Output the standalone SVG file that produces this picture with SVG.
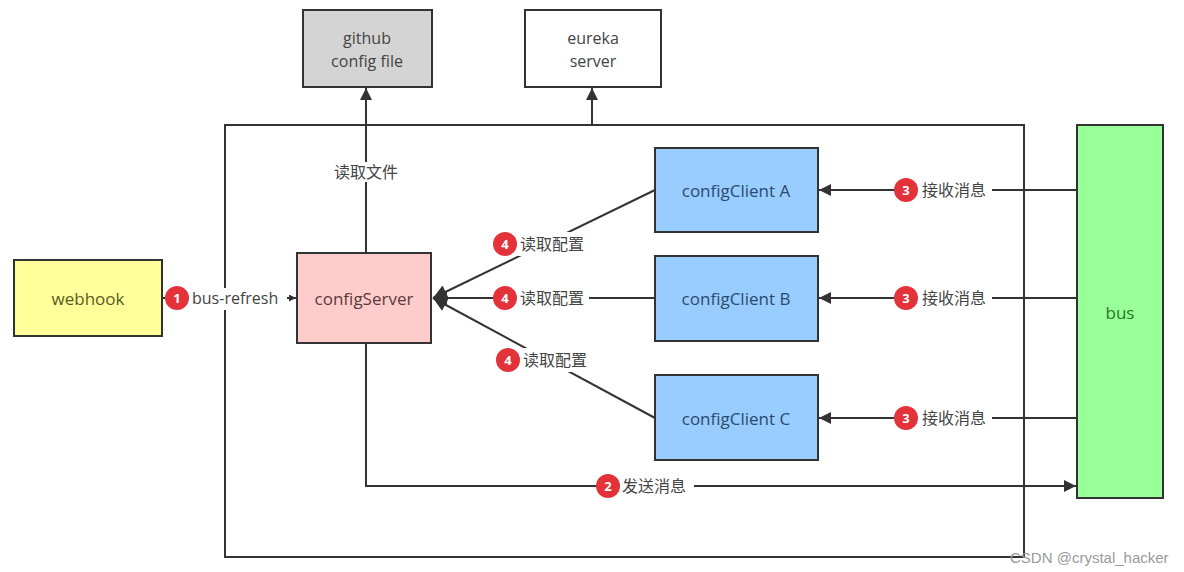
<svg xmlns="http://www.w3.org/2000/svg" width="1184" height="572" viewBox="0 0 1184 572">
<style>
.box{stroke:#333;stroke-width:2}
.t{font-family:"Open Sans","Noto Sans CJK SC",sans-serif;font-size:17px;text-anchor:middle;dominant-baseline:central}
.t2{font-family:"Open Sans","Noto Sans CJK SC",sans-serif;font-size:16px;text-anchor:middle;dominant-baseline:central}
.lbl{font-family:"Open Sans","Noto Sans CJK SC",sans-serif;font-size:16px;fill:#444;dominant-baseline:central}
.ln{stroke:#333;stroke-width:2;fill:none}
.num{fill:#e3323a}
.numt{font-family:"Open Sans",sans-serif;font-size:13px;font-weight:bold;fill:#fff;text-anchor:middle;dominant-baseline:central}
</style>
<defs>
<marker id="ah" viewBox="0 0 10 10" refX="10" refY="5" markerWidth="8" markerHeight="6" markerUnits="strokeWidth" orient="auto">
<path d="M0,0 L10,5 L0,10 z" fill="#333"/>
</marker>
<marker id="ahs" viewBox="0 0 10 10" refX="10" refY="5" markerWidth="4" markerHeight="3.5" markerUnits="strokeWidth" orient="auto">
<path d="M0,0 L10,5 L0,10 z" fill="#333"/>
</marker>
<marker id="ahd" viewBox="0 0 10 10" refX="10" refY="5" markerWidth="10" markerHeight="7" markerUnits="strokeWidth" orient="auto">
<path d="M0,0 L10,5 L0,10 z" fill="#333"/>
</marker>
</defs>
<rect width="1184" height="572" fill="#fff"/>

<g id="container"><rect x="225" y="125" width="799" height="432" fill="none" class="box"/></g>

<g id="connectors">
<line class="ln" x1="366" y1="253" x2="366" y2="88" marker-end="url(#ah)"/>
<line class="ln" x1="592" y1="125" x2="592" y2="88" marker-end="url(#ah)"/>
<line class="ln" x1="163" y1="298" x2="296" y2="298" marker-end="url(#ahs)"/>
<line class="ln" x1="655" y1="190" x2="433" y2="298" marker-end="url(#ahd)"/>
<line class="ln" x1="655" y1="298" x2="433" y2="298" marker-end="url(#ahd)"/>
<line class="ln" x1="655" y1="418" x2="433" y2="298" marker-end="url(#ahd)"/>
<line class="ln" x1="1077" y1="190" x2="819" y2="190" marker-end="url(#ah)"/>
<line class="ln" x1="1077" y1="298" x2="819" y2="298" marker-end="url(#ah)"/>
<line class="ln" x1="1077" y1="418" x2="819" y2="418" marker-end="url(#ah)"/>
<path class="ln" d="M366,343 V486 H1076" marker-end="url(#ah)"/>
</g>

<g id="labels">
<rect x="331" y="162" width="70" height="20" fill="#fff"/>
<text class="lbl" x="366" y="172" text-anchor="middle">读取文件</text>

<rect x="165" y="288" width="122" height="22" fill="#fff"/>
<circle class="num" cx="177" cy="298" r="12"/><text class="numt" x="177" y="298">1</text>
<text class="lbl" x="192" y="298">bus-refresh</text>

<rect x="493" y="232" width="96" height="24" fill="#fff"/>
<circle class="num" cx="505" cy="244" r="12"/><text class="numt" x="505" y="244">4</text>
<text class="lbl" x="520" y="244">读取配置</text>

<rect x="493" y="286" width="96" height="24" fill="#fff"/>
<circle class="num" cx="505" cy="298" r="12"/><text class="numt" x="505" y="298">4</text>
<text class="lbl" x="520" y="298">读取配置</text>

<rect x="496" y="348" width="96" height="24" fill="#fff"/>
<circle class="num" cx="508" cy="360" r="12"/><text class="numt" x="508" y="360">4</text>
<text class="lbl" x="523" y="360">读取配置</text>

<rect x="894" y="178" width="98" height="24" fill="#fff"/>
<circle class="num" cx="906" cy="190" r="12"/><text class="numt" x="906" y="190">3</text>
<text class="lbl" x="922" y="190">接收消息</text>

<rect x="894" y="286" width="98" height="24" fill="#fff"/>
<circle class="num" cx="906" cy="298" r="12"/><text class="numt" x="906" y="298">3</text>
<text class="lbl" x="922" y="298">接收消息</text>

<rect x="894" y="406" width="98" height="24" fill="#fff"/>
<circle class="num" cx="906" cy="418" r="12"/><text class="numt" x="906" y="418">3</text>
<text class="lbl" x="922" y="418">接收消息</text>

<rect x="596" y="474" width="98" height="24" fill="#fff"/>
<circle class="num" cx="608" cy="486" r="12"/><text class="numt" x="608" y="486">2</text>
<text class="lbl" x="622" y="486">发送消息</text>
</g>

<g id="github"><rect class="box" x="303" y="10" width="129" height="77" fill="#d4d4d4"/>
<text class="t2" x="367" y="38" fill="#444">github</text><text class="t2" x="367" y="61" fill="#444">config file</text></g>

<g id="eureka"><rect class="box" x="525" y="10" width="136" height="77" fill="#fff"/>
<text class="t2" x="593" y="38" fill="#444">eureka</text><text class="t2" x="593" y="61" fill="#444">server</text></g>

<g id="webhook"><rect class="box" x="14" y="260" width="148" height="76" fill="#ffff99"/>
<text class="t" x="88" y="298" fill="#5a5a22">webhook</text></g>

<g id="configServer"><rect class="box" x="297" y="253" width="134" height="90" fill="#ffcccc"/>
<text class="t" x="364" y="298" fill="#5a3a3a">configServer</text></g>

<g id="clientA"><rect class="box" x="655" y="148" width="163" height="84" fill="#99ccff" stroke="#2f4a66"/>
<text class="t" x="736" y="190" fill="#2b4a6e">configClient A</text></g>

<g id="clientB"><rect class="box" x="655" y="256" width="163" height="85" fill="#99ccff"/>
<text class="t" x="736" y="298" fill="#2b4a6e">configClient B</text></g>

<g id="clientC"><rect class="box" x="655" y="375" width="163" height="85" fill="#99ccff"/>
<text class="t" x="736" y="418" fill="#2b4a6e">configClient C</text></g>

<g id="bus"><rect class="box" x="1077" y="125" width="86" height="373" fill="#99ff99"/>
<text class="t" x="1120" y="312" fill="#1f7a1f">bus</text></g>

<text x="1010" y="557" font-family="Liberation Sans, sans-serif" font-size="15" fill="#999" dominant-baseline="central">CSDN @crystal_hacker</text>
</svg>
